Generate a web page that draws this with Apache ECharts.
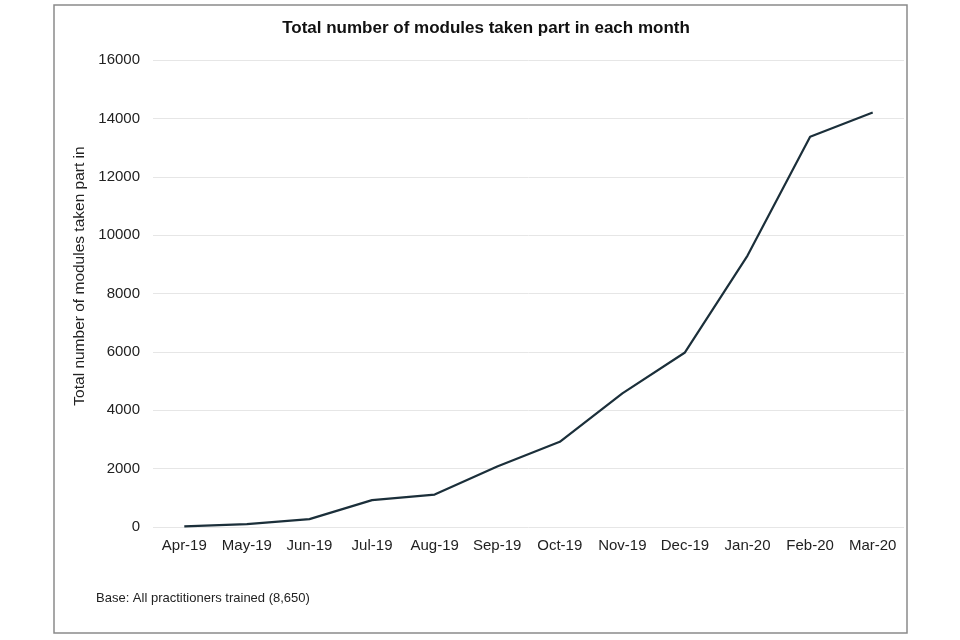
<!DOCTYPE html>
<html>
<head>
<meta charset="utf-8">
<script src="https://cdn.jsdelivr.net/npm/echarts@6/dist/echarts.min.js"></script>
<style>
html,body{margin:0;padding:0;background:#fff;}
#c{width:960px;height:640px;}
</style>
</head>
<body>
<div id="c"></div>
<script>
const months = ['Apr-19','May-19','Jun-19','Jul-19','Aug-19','Sep-19','Oct-19','Nov-19','Dec-19','Jan-20','Feb-20','Mar-20'];
const modules = [20, 100, 270, 920, 1110, 2070, 2920, 4580, 5980, 9300, 13370, 14200];
const titleText = 'Total number of modules taken part in each month';
const yAxisName = 'Total number of modules taken part in';
const footnote = 'Base: All practitioners trained (8,650)';

const chart = echarts.init(document.getElementById('c'), null, {renderer:'canvas'});
const font = '"Liberation Sans", Arial, sans-serif';
chart.setOption({
  animation: false,
  backgroundColor: '#fff',
  title: {
    text: titleText,
    left: 481, top: 15, textAlign: 'center',
    textStyle: {fontFamily: font, fontSize: 17, fontWeight: 'bold', color: '#111'}
  },
  grid: {left: 153, right: 56, top: 60, bottom: 113, containLabel: false},
  xAxis: {
    type: 'category',
    data: months,
    boundaryGap: true,
    axisLine: {show: false},
    axisTick: {show: false},
    axisLabel: {fontFamily: font, fontSize: 15, color: '#222', margin: 11, interval: 0}
  },
  yAxis: {
    type: 'value',
    min: 0, max: 16000, interval: 2000,
    axisLine: {show: false},
    axisTick: {show: false},
    axisLabel: {fontFamily: font, fontSize: 15, color: '#222', margin: 13,
      formatter: v => String(v)},
    splitLine: {lineStyle: {color: '#e6e6e6', width: 1}}
  },
  series: [{
    type: 'line',
    data: modules,
    symbol: 'none',
    lineStyle: {color: '#1b2f3a', width: 2.2},
    itemStyle: {color: '#1b2f3a'}
  }],
  graphic: [
    {type: 'rect', shape: {x: 54, y: 5, width: 853, height: 628},
     style: {fill: 'none', stroke: '#8a8a8a', lineWidth: 1.5}, z: 10},
    {type: 'text', x: 80, y: 276, rotation: Math.PI/2,
     style: {text: yAxisName, font: '15.5px ' + font, fill: '#222', textAlign: 'center', textVerticalAlign: 'middle'}},
    {type: 'text', x: 96, y: 598,
     style: {text: footnote, font: '13px ' + font, fill: '#222', textAlign: 'left', textVerticalAlign: 'middle'}}
  ]
});
</script>
</body>
</html>
